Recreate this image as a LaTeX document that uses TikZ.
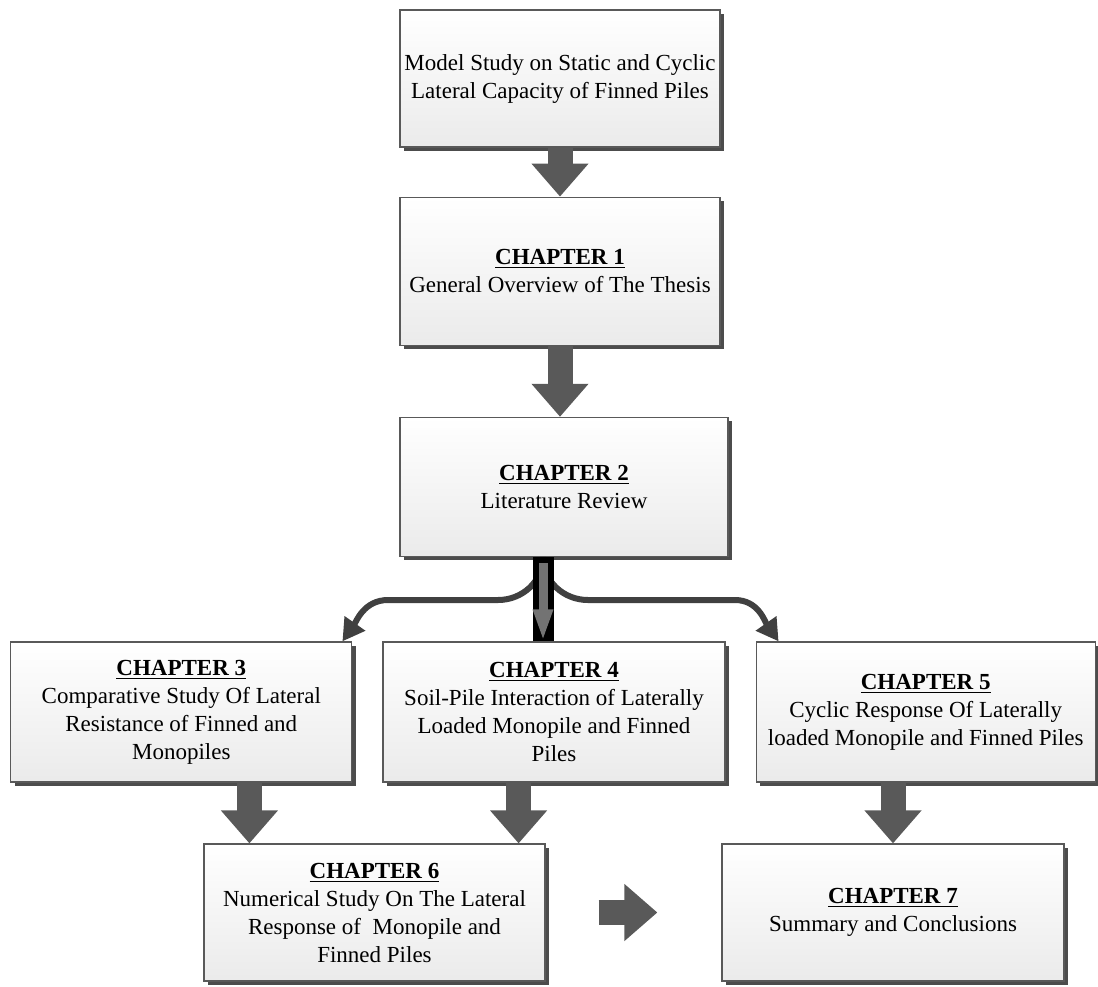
\documentclass[tikz,border=0pt]{standalone}
\usepackage{fontspec}
\setmainfont{Liberation Serif}
\usetikzlibrary{positioning, arrows.meta, shadows}

\definecolor{arrowgray}{RGB}{89,89,89}
\definecolor{linkgray}{RGB}{64,64,64}

\begin{document}
\begin{tikzpicture}[
    x=0.5pt, y=-0.5pt,
    chapbox/.style={rectangle, draw=black!65, line width=0.6pt, top color=white, bottom color=black!8,
        drop shadow={shadow xshift=2pt, shadow yshift=-2pt, fill=black!70, opacity=1},
        align=center, inner sep=2pt, font=\fontsize{11.5}{14}\selectfont},
    blockarrow/.style={draw=arrowgray, line width=12.5pt, -{Triangle[width=27.5pt,length=16.5pt]}},
    curvearrow/.style={draw=linkgray, line width=3pt, -{Triangle[width=12pt,length=11pt]}}
]
    \useasboundingbox (0,0) rectangle (1098,986);

    \node[chapbox, minimum width=160pt, minimum height=68.5pt] (thesis) at (560,78.5)
        {Model Study on Static and Cyclic\\Lateral Capacity of Finned Piles};
    \node[chapbox, minimum width=160pt, minimum height=74pt, below=24.5pt of thesis] (ch1)
        {\underline{\textbf{CHAPTER 1}}\\General Overview of The Thesis};
    \node[chapbox, minimum width=164pt, minimum height=69.5pt, below=35.5pt of ch1.south west, anchor=north west] (ch2)
        {\underline{\textbf{CHAPTER 2}}\\Literature Review};

    \node[chapbox, minimum width=171pt, minimum height=70pt] (ch4) at (554,712)
        {\underline{\textbf{CHAPTER 4}}\\Soil-Pile Interaction of Laterally\\Loaded Monopile and Finned\\Piles};
    \node[chapbox, minimum width=170.5pt, minimum height=70pt, left=15pt of ch4] (ch3)
        {\underline{\textbf{CHAPTER 3}}\\Comparative Study Of Lateral\\Resistance of Finned and\\Monopiles};
    \node[chapbox, minimum width=169.5pt, minimum height=70pt, right=15pt of ch4] (ch5)
        {\underline{\textbf{CHAPTER 5}}\\Cyclic Response Of Laterally\\loaded Monopile and Finned Piles};

    \node[chapbox, minimum width=170.5pt, minimum height=68.5pt] (ch6) at (374.5,912.5)
        {\underline{\textbf{CHAPTER 6}}\\Numerical Study On The Lateral\\Response of~ Monopile and\\Finned Piles};
    \node[chapbox, minimum width=171pt, minimum height=68.5pt] (ch7) at (893,912.5)
        {\underline{\textbf{CHAPTER 7}}\\Summary and Conclusions};

    % straight block arrows
    \draw[blockarrow] (thesis) -- (ch1);
    \draw[blockarrow] (ch1.south) -- (ch1.south |- ch2.north);
    \coordinate (in6a) at ([xshift=23pt]ch6.north west);
    \coordinate (in6b) at ([xshift=-13.5pt]ch6.north east);
    \draw[blockarrow] (in6a |- ch3.south) -- (in6a);
    \draw[blockarrow] (in6b |- ch4.south) -- (in6b);
    \draw[blockarrow] (ch7.north |- ch5.south) -- (ch7.north);
    \draw[blockarrow] ([xshift=26.5pt]ch6.east) -- ([xshift=-32pt]ch7.west);

    % branches out of chapter 2
    \coordinate (split) at ([xshift=-10.5pt]ch2.south);
    \draw[curvearrow] (split) to[out=-90, in=0] ++(-45,43) -- ++(-110,0)
        to[out=180, in=55] ([xshift=-5pt]ch3.north east);
    \draw[curvearrow] (split) to[out=-90, in=180] ++(45,43) -- ++(147,0)
        to[out=0, in=125] ([xshift=11.5pt]ch5.north west);
    \draw[line width=10.5pt, black] (split) -- (split |- ch4.north);
    \draw[line width=4.5pt, black!55, -{Triangle[width=9pt,length=16pt]}]
        ([yshift=-3pt]split) -- (split |- ch4.north);
\end{tikzpicture}
\end{document}
